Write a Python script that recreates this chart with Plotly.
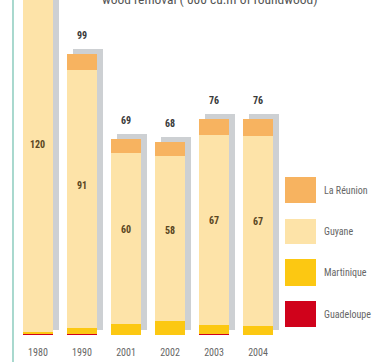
import plotly.graph_objects as go

# Wood removal by overseas department, thousand cubic metres of roundwood
years = ["1980", "1990", "2001", "2002", "2003", "2004"]
guadeloupe = [0.5, 0.5, 0, 0, 0.5, 0]
martinique = [0.5, 2, 4, 5, 3, 3]
guyane = [120, 91, 60, 58, 67, 67]
reunion = [5, 5.5, 5, 5, 5.5, 6]

series_names = ["Guadeloupe", "Martinique", "Guyane", "La Réunion"]
series_values = [guadeloupe, martinique, guyane, reunion]
series_colors = ["#d0021b", "#fcc812", "#fde3a8", "#f7b360"]

title_text = "wood removal ( 000 cu.m of roundwood)"

FONT = "Liberation Sans Narrow, Roboto Condensed, Arial Narrow, sans-serif"
W, H = 391, 362
ML, MR, MT, MB = 13, 111, 0, 27
PW, PH = W - ML - MR, H - MT - MB

xs = list(range(len(years)))
totals = [sum(v[i] for v in series_values) for i in xs]
bar_w = 0.68
shadow_dx = 0.13
shadow_lift = 1.7

fig = go.Figure()

# soft grey drop shadow behind each stack
fig.add_trace(go.Bar(
    x=xs, y=totals, base=[shadow_lift] * len(xs),
    width=bar_w, offset=-bar_w / 2 + shadow_dx,
    marker=dict(color="#cdd0d3", line=dict(width=0)),
    hoverinfo="skip", showlegend=False,
))

# stacked segments, bottom to top
running = [0.0] * len(xs)
for name, vals, col in zip(series_names, series_values, series_colors):
    fig.add_trace(go.Bar(
        x=xs, y=vals, base=list(running), name=name,
        width=bar_w, offset=-bar_w / 2,
        marker=dict(color=col, line=dict(width=0)),
        showlegend=False,
    ))
    running = [r + v for r, v in zip(running, vals)]

annotations = []
# Guyane value inside each bar
for i in xs:
    below = guadeloupe[i] + martinique[i]
    annotations.append(dict(
        x=i, y=below + 0.55 * guyane[i], xref="x", yref="y",
        text=f"<b>{guyane[i]:g}</b>", showarrow=False,
        font=dict(family=FONT, size=10, color="#5a4622"),
    ))
# totals above the shadows
for i in xs:
    annotations.append(dict(
        x=i, y=totals[i] + shadow_lift, xref="x", yref="y",
        text=f"<b>{round(totals[i])}</b>", showarrow=False,
        yanchor="bottom", yshift=6,
        font=dict(family=FONT, size=10, color="#3a3a3a"),
    ))

# title, sitting at the very top edge of the page
annotations.append(dict(
    x=(210 - ML) / PW, y=1.0, xref="paper", yref="paper",
    text=title_text, showarrow=False, xanchor="center", yanchor="middle",
    yshift=1,
    font=dict(family=FONT, size=13.5, color="#555555"),
))

# legend keys drawn as boxes with labels
shapes = []
legend_rows = [("La Réunion", "#f7b360", 177, 203),
               ("Guyane", "#fde3a8", 219, 244),
               ("Martinique", "#fcc812", 259, 286),
               ("Guadeloupe", "#d0021b", 301, 327)]
for label, col, top, bot in legend_rows:
    shapes.append(dict(
        type="rect", xref="paper", yref="paper",
        x0=(285 - ML) / PW, x1=(316 - ML) / PW,
        y0=(MT + PH - bot) / PH, y1=(MT + PH - top) / PH,
        fillcolor=col, line=dict(width=0), layer="above",
    ))
    annotations.append(dict(
        x=(322 - ML) / PW, y=(MT + PH - (top + bot) / 2) / PH,
        xref="paper", yref="paper", text=label, showarrow=False,
        xanchor="left", yanchor="middle",
        font=dict(family=FONT, size=10, color="#666666"),
    ))

# thin teal rule down the left edge
shapes.append(dict(
    type="line", xref="paper", yref="paper",
    x0=0, x1=0, y0=-(MB + 5) / PH, y1=1.05,
    line=dict(color="#6fbfae", width=1.2), layer="above",
))

fig.update_layout(
    width=W, height=H,
    margin=dict(l=ML, r=MR, t=MT, b=MB),
    paper_bgcolor="white", plot_bgcolor="white",
    barmode="overlay", bargap=0,
    showlegend=False,
    annotations=annotations, shapes=shapes,
    xaxis=dict(
        range=[-0.568, 5.5], tickmode="array", tickvals=xs, ticktext=years,
        showgrid=False, zeroline=False, showline=False,
        ticks="outside", ticklen=8, tickcolor="rgba(0,0,0,0)",
        tickfont=dict(family=FONT, size=10, color="#666666"),
    ),
    yaxis=dict(
        range=[0, 118], visible=False, showgrid=False, zeroline=False,
    ),
)

fig.write_html("out.html")
